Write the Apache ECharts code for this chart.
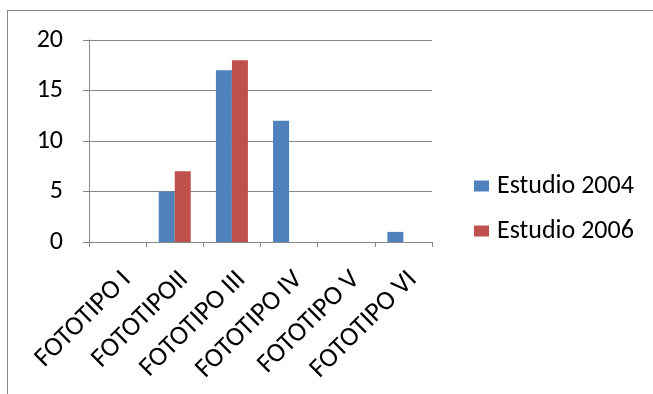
<!DOCTYPE html>
<html>
<head>
<meta charset="utf-8">
<script src="https://cdn.jsdelivr.net/npm/echarts@6/dist/echarts.min.js"></script>
<style>
  html, body { margin: 0; padding: 0; background: #fff; }
  #frame { position: absolute; left: 7px; top: 10px; width: 660px; height: 400px; border: 1px solid #868686; }
  #chart { position: absolute; left: 0; top: 0; width: 653px; height: 394px; }
</style>
</head>
<body>
<div id="frame"></div>
<div id="chart"></div>
<script>
// categorias y valores
const categories = ['FOTOTIPO I', 'FOTOTIPOII', 'FOTOTIPO III', 'FOTOTIPO IV', 'FOTOTIPO V', 'FOTOTIPO VI'];
const estudio2004 = [0, 5, 17, 12, 0, 1];
const estudio2006 = [0, 7, 18, 0, 0, 0];
const yTicks = [0, 5, 10, 15, 20];

const chart = echarts.init(document.getElementById('chart'));
const font = 'Carlito, "Open Sans", "Liberation Sans", sans-serif';

chart.setOption({
    animation: false,
    grid: { left: 89, right: 221, top: 40, bottom: 152 },
    legend: {
        orient: 'vertical',
        left: 474,
        top: 173,
        padding: 0,
        itemWidth: 15,
        itemHeight: 11,
        itemGap: 19,
        icon: 'rect',
        textStyle: { fontFamily: font, fontSize: 26, color: '#000', padding: [0, 0, 0, 3] },
        data: ['Estudio 2004', 'Estudio 2006']
    },
    xAxis: {
        type: 'category',
        data: categories,
        axisLine: { lineStyle: { color: '#868686', width: 1 } },
        axisTick: { show: true, length: 5, lineStyle: { color: '#868686' } },
        axisLabel: {
            interval: 0, rotate: 45, margin: 24, verticalAlign: 'top',
            fontFamily: font, fontSize: 27, color: '#000'
        }
    },
    yAxis: {
        type: 'value',
        min: yTicks[0],
        max: yTicks[yTicks.length - 1],
        interval: 5,
        axisLine: { show: true, lineStyle: { color: '#868686', width: 1 } },
        axisTick: { show: true, length: 6, lineStyle: { color: '#868686' } },
        axisLabel: { margin: 26, fontFamily: font, fontSize: 26, color: '#000' },
        splitLine: { lineStyle: { color: '#868686', width: 1 } }
    },
    series: [
        {
            name: 'Estudio 2004',
            type: 'bar',
            data: estudio2004,
            barGap: '0%',
            barCategoryGap: '44%',
            itemStyle: { color: '#4f81bd' }
        },
        {
            name: 'Estudio 2006',
            type: 'bar',
            data: estudio2006,
            itemStyle: { color: '#c0504d' }
        }
    ]
});
</script>
</body>
</html>
